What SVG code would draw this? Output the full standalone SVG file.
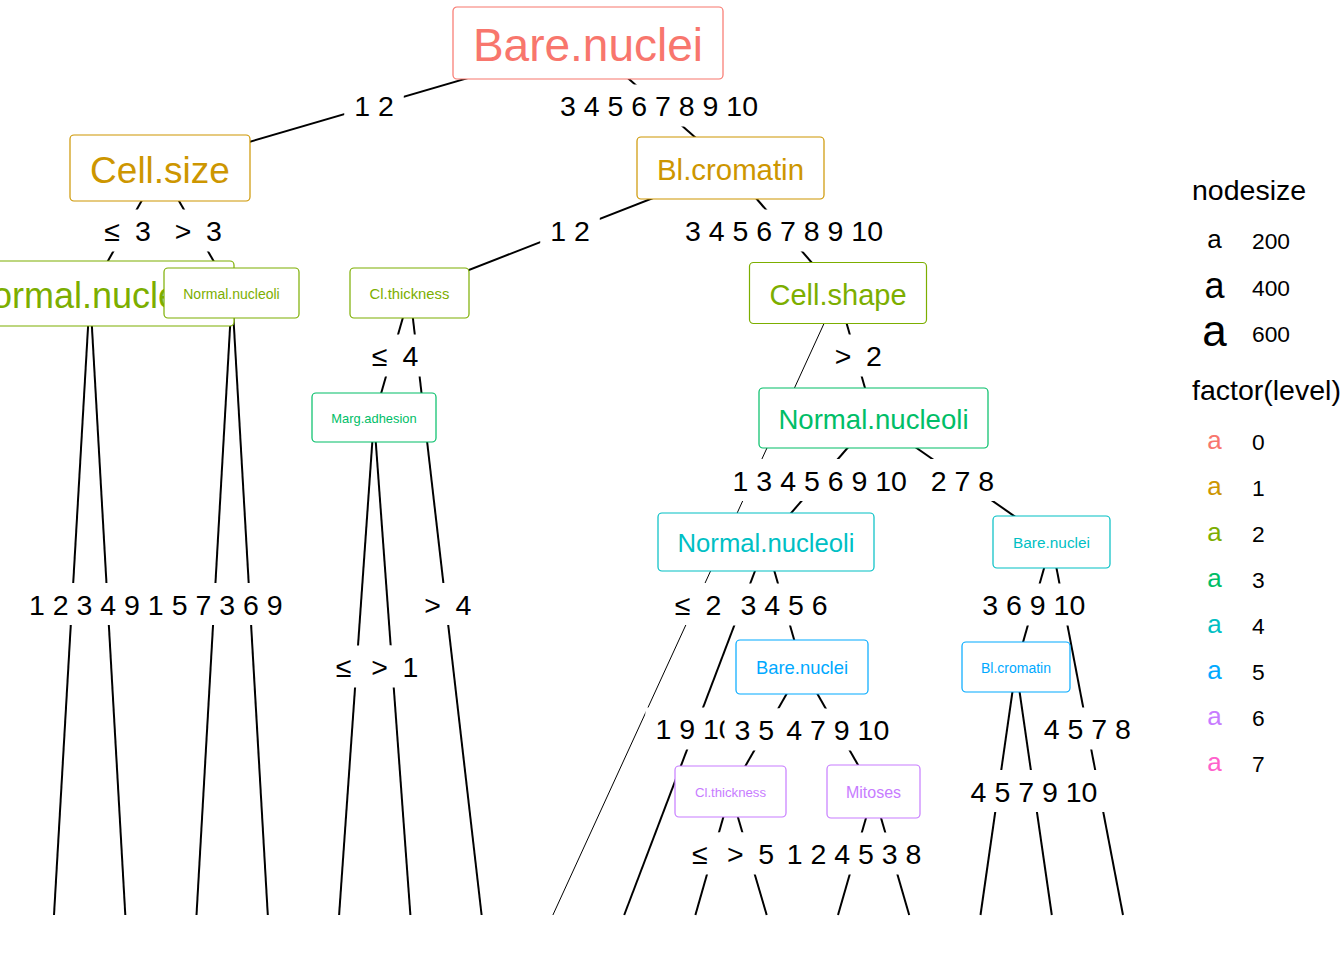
<svg xmlns="http://www.w3.org/2000/svg" width="1344" height="960" viewBox="0 0 1344 960">
<style>
text{font-family:"Liberation Sans",Arial,sans-serif}
.e{stroke:#000;stroke-width:2;fill:none}
.et{stroke-width:1}
.bg{fill:#fff;stroke:none}
.lb{font-size:28.5px;fill:#000}
.lbm{font-size:28.5px;fill:#000;text-anchor:middle}
.op{font-size:28.5px;fill:#000;text-anchor:middle;font-weight:300}
.nb{fill:#fff;stroke-width:1.2}
.nt{text-anchor:middle}
.lg{font-size:28.5px;fill:#000}
.ll{font-size:22.8px;fill:#000}
.ka{text-anchor:middle}
</style>
<rect width="1344" height="960" fill="#fff"/>
<g id="connectors">
<line class="e" x1="588" y1="43" x2="160" y2="168"/>
<line class="e" x1="588" y1="43" x2="730" y2="168"/>
<line class="e" x1="160" y1="168" x2="90" y2="293"/>
<line class="e" x1="160" y1="168" x2="232" y2="293"/>
<line class="e" x1="730" y1="168" x2="410" y2="293"/>
<line class="e" x1="730" y1="168" x2="838" y2="293"/>
<line class="e" x1="90" y1="293" x2="54" y2="915"/>
<line class="e" x1="90" y1="293" x2="125.3" y2="915"/>
<line class="e" x1="232" y1="293" x2="196.5" y2="915"/>
<line class="e" x1="232" y1="293" x2="267.8" y2="915"/>
<line class="e" x1="410" y1="293" x2="374" y2="418"/>
<line class="e" x1="410" y1="293" x2="481.6" y2="915"/>
<line class="e" x1="374" y1="418" x2="339.1" y2="915"/>
<line class="e" x1="374" y1="418" x2="410.4" y2="915"/>
<line class="e et" x1="838" y1="293" x2="552.9" y2="915"/>
<line class="e" x1="838" y1="293" x2="873.5" y2="418"/>
<line class="e" x1="873.5" y1="418" x2="766" y2="542"/>
<line class="e" x1="873.5" y1="418" x2="1051.5" y2="542"/>
<line class="e" x1="766" y1="542" x2="624.2" y2="915"/>
<line class="e" x1="766" y1="542" x2="802" y2="667"/>
<line class="e" x1="1051.5" y1="542" x2="1016" y2="667"/>
<line class="e" x1="1051.5" y1="542" x2="1123" y2="915"/>
<line class="e" x1="802" y1="667" x2="730.5" y2="792"/>
<line class="e" x1="802" y1="667" x2="873.5" y2="792"/>
<line class="e" x1="1016" y1="667" x2="980.5" y2="915"/>
<line class="e" x1="1016" y1="667" x2="1051.8" y2="915"/>
<line class="e" x1="730.5" y1="792" x2="695.4" y2="915"/>
<line class="e" x1="730.5" y1="792" x2="766.7" y2="915"/>
<line class="e" x1="873.5" y1="792" x2="838" y2="915"/>
<line class="e" x1="873.5" y1="792" x2="909.2" y2="915"/>
</g>
<g id="edge-labels">
<rect class="bg" x="344.2" y="84.5" width="59.6" height="42"/><text class="lbm" x="374" y="116">1 2</text>
<rect class="bg" x="550" y="84.5" width="218" height="42"/><text class="lbm" x="659" y="116">3 4 5 6 7 8 9 10</text>
<rect class="bg" x="95" y="209.5" width="65" height="42"/><text class="op" x="112" y="241">≤</text><text class="lbm" x="143" y="241">3</text>
<rect class="bg" x="166" y="209.5" width="65" height="42"/><text class="op" x="183" y="241">&gt;</text><text class="lbm" x="214" y="241">3</text>
<rect class="bg" x="540.2" y="209.5" width="59.6" height="42"/><text class="lbm" x="570" y="241">1 2</text>
<rect class="bg" x="675" y="209.5" width="218" height="42"/><text class="lbm" x="784" y="241">3 4 5 6 7 8 9 10</text>
<rect class="bg" x="362.5" y="334.5" width="65" height="42"/><text class="op" x="379.5" y="366">≤</text><text class="lbm" x="410.5" y="366">4</text>
<rect class="bg" x="826" y="334.5" width="65" height="42"/><text class="op" x="843" y="366">&gt;</text><text class="lbm" x="874" y="366">2</text>
<rect class="bg" x="722.6" y="459" width="194.3" height="42"/><text class="lbm" x="819.75" y="490.5">1 3 4 5 6 9 10</text>
<rect class="bg" x="920.8" y="459" width="83.4" height="42"/><text class="lbm" x="962.5" y="490.5">2 7 8</text>
<rect class="bg" x="19" y="583" width="273.5" height="42"/><text class="lbm" x="155.8" y="614.5">1 2 3 4 9 1 5 7 3 6 9</text>
<rect class="bg" x="415.5" y="583" width="65" height="42"/><text class="op" x="432.5" y="614.5">&gt;</text><text class="lbm" x="463.5" y="614.5">4</text>
<rect class="bg" x="665.5" y="583" width="65" height="42"/><text class="op" x="682.5" y="614.5">≤</text><text class="lbm" x="713.5" y="614.5">2</text>
<rect class="bg" x="730.4" y="583.5" width="107.2" height="42"/><text class="lbm" x="784" y="615">3 4 5 6</text>
<rect class="bg" x="972.25" y="583.5" width="123" height="42"/><text class="lbm" x="1033.75" y="615">3 6 9 10</text>
<rect class="bg" x="326.5" y="645.5" width="65" height="42"/><text class="op" x="343.5" y="677">≤</text>
<rect class="bg" x="362.5" y="645.5" width="65" height="42"/><text class="op" x="379.5" y="677">&gt;</text><text class="lbm" x="410.5" y="677">1</text>
<rect class="bg" x="645.4" y="707.5" width="99.2" height="42"/><text class="lbm" x="695" y="739">1 9 10</text>
<rect class="bg" x="724.5" y="708.5" width="83.5" height="42"/><text class="lb" x="734.5" y="740">3 5</text>
<rect class="bg" x="776.25" y="708.5" width="123" height="42"/><text class="lbm" x="837.75" y="740">4 7 9 10</text>
<rect class="bg" x="1033.6" y="707.5" width="107.2" height="42"/><text class="lbm" x="1087.25" y="739">4 5 7 8</text>
<rect class="bg" x="960.6" y="770" width="146.8" height="42"/><text class="lbm" x="1034" y="801.5">4 5 7 9 10</text>
<rect class="bg" x="682.75" y="832.5" width="65" height="42"/><text class="op" x="699.75" y="864">≤</text>
<rect class="bg" x="718.25" y="832.5" width="65" height="42"/><text class="op" x="735.25" y="864">&gt;</text><text class="lbm" x="766.25" y="864">5</text>
<rect class="bg" x="776.65" y="832.5" width="154.7" height="42"/><text class="lbm" x="854" y="864">1 2 4 5 3 8</text>
</g>
<g id="n1"><rect class="nb" x="453" y="7" width="270" height="72" rx="4" stroke="#F8766D"/><text class="nt" x="588" y="61" font-size="46" fill="#F8766D">Bare.nuclei</text></g>
<g id="n2"><rect class="nb" x="70" y="135" width="180" height="66" rx="4" stroke="#CD9600"/><text class="nt" x="160" y="183" font-size="37" fill="#CD9600">Cell.size</text></g>
<g id="n3"><rect class="nb" x="-54" y="261" width="288" height="65" rx="4" stroke="#7CAE00"/><text class="nt" x="90" y="307.5" font-size="36" fill="#7CAE00">Normal.nucleoli</text></g>
<g id="n4"><rect class="nb" x="164" y="268" width="135" height="50" rx="4" stroke="#7CAE00"/><text class="nt" x="231.5" y="298.6" font-size="14" fill="#7CAE00">Normal.nucleoli</text></g>
<g id="n5"><rect class="nb" x="637" y="137" width="187" height="62" rx="4" stroke="#CD9600"/><text class="nt" x="730.5" y="180" font-size="29.4" fill="#CD9600">Bl.cromatin</text></g>
<g id="n6"><rect class="nb" x="350" y="268" width="119" height="50" rx="4" stroke="#7CAE00"/><text class="nt" x="409.5" y="299" font-size="14.8" fill="#7CAE00">Cl.thickness</text></g>
<g id="n7"><rect class="nb" x="749.5" y="262.5" width="177" height="61" rx="4" stroke="#7CAE00"/><text class="nt" x="838" y="304.6" font-size="29" fill="#7CAE00">Cell.shape</text></g>
<g id="n8"><rect class="nb" x="312" y="393" width="124" height="49" rx="4" stroke="#00BE67"/><text class="nt" x="374" y="423.2" font-size="12.9" fill="#00BE67">Marg.adhesion</text></g>
<g id="n9"><rect class="nb" x="759" y="388" width="229" height="60" rx="4" stroke="#00BE67"/><text class="nt" x="873.5" y="429" font-size="27.6" fill="#00BE67">Normal.nucleoli</text></g>
<g id="n10"><rect class="nb" x="658" y="513" width="216" height="58" rx="4" stroke="#00BFC4"/><text class="nt" x="766" y="552.3" font-size="25.7" fill="#00BFC4">Normal.nucleoli</text></g>
<g id="n11"><rect class="nb" x="993" y="516" width="117" height="52" rx="4" stroke="#00BFC4"/><text class="nt" x="1051.5" y="548.2" font-size="15.4" fill="#00BFC4">Bare.nuclei</text></g>
<g id="n12"><rect class="nb" x="736" y="640" width="132" height="54" rx="4" stroke="#00A9FF"/><text class="nt" x="802" y="674.4" font-size="18.4" fill="#00A9FF">Bare.nuclei</text></g>
<g id="n13"><rect class="nb" x="962" y="642" width="108" height="50" rx="4" stroke="#00A9FF"/><text class="nt" x="1016" y="672.6" font-size="14" fill="#00A9FF">Bl.cromatin</text></g>
<g id="n14"><rect class="nb" x="675" y="766" width="111" height="51" rx="4" stroke="#C77CFF"/><text class="nt" x="730.5" y="797.3" font-size="13.2" fill="#C77CFF">Cl.thickness</text></g>
<g id="n15"><rect class="nb" x="827" y="765" width="93" height="53" rx="4" stroke="#C77CFF"/><text class="nt" x="873.5" y="798.4" font-size="16" fill="#C77CFF">Mitoses</text></g>
<g id="legend">
<text class="lg" x="1192" y="200">nodesize</text>
<text class="ka" x="1214.5" y="248" font-size="26">a</text><text class="ll" x="1252" y="249.2">200</text>
<text class="ka" x="1214.5" y="297.5" font-size="36">a</text><text class="ll" x="1252" y="296.2">400</text>
<text class="ka" x="1214.5" y="346" font-size="44">a</text><text class="ll" x="1252" y="342.2">600</text>
<text class="lg" x="1192" y="400">factor(level)</text>
<text class="ka" x="1214.5" y="449" font-size="26" fill="#F8766D">a</text><text class="ll" x="1252" y="450.2">0</text>
<text class="ka" x="1214.5" y="495" font-size="26" fill="#CD9600">a</text><text class="ll" x="1252" y="496.2">1</text>
<text class="ka" x="1214.5" y="541" font-size="26" fill="#7CAE00">a</text><text class="ll" x="1252" y="542.2">2</text>
<text class="ka" x="1214.5" y="587" font-size="26" fill="#00BE67">a</text><text class="ll" x="1252" y="588.2">3</text>
<text class="ka" x="1214.5" y="633" font-size="26" fill="#00BFC4">a</text><text class="ll" x="1252" y="634.2">4</text>
<text class="ka" x="1214.5" y="679" font-size="26" fill="#00A9FF">a</text><text class="ll" x="1252" y="680.2">5</text>
<text class="ka" x="1214.5" y="725" font-size="26" fill="#C77CFF">a</text><text class="ll" x="1252" y="726.2">6</text>
<text class="ka" x="1214.5" y="771" font-size="26" fill="#FF61CC">a</text><text class="ll" x="1252" y="772.2">7</text>
</g>
</svg>
